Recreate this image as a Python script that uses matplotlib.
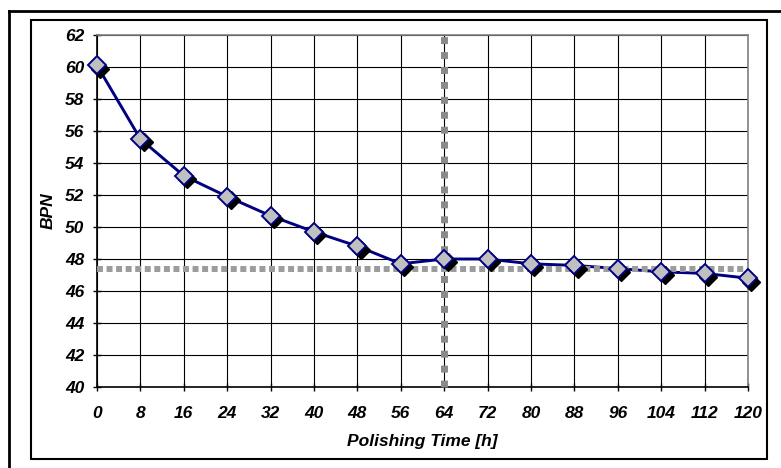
import matplotlib
matplotlib.use("Agg")
import matplotlib.pyplot as plt
import matplotlib.transforms as mtransforms
from matplotlib.lines import Line2D

# ---- data ----
polishing_time = [0, 8, 16, 24, 32, 40, 48, 56, 64, 72, 80, 88, 96, 104, 112, 120]
bpn = [60.1, 55.5, 53.2, 51.9, 50.7, 49.7, 48.8, 47.7, 48.0, 48.0, 47.7, 47.6, 47.4, 47.2, 47.1, 46.8]
x_ticks = list(range(0, 121, 8))
y_ticks = list(range(40, 63, 2))
h_ref = 47.4
v_ref = 64

plt.rcParams['font.family'] = ['Liberation Sans', 'DejaVu Sans']

fig = plt.figure(figsize=(7.81, 4.68), dpi=100)
W, H = 781, 468

def fx(px):
    return px / W

def fy(py):
    return 1 - py / H

ax = fig.add_axes([fx(97), fy(387), fx(748) - fx(97), fy(35) - fy(387)])

# frames
fig.add_artist(Line2D([fx(9), 1.0], [fy(11), fy(11)], color='black', lw=2.0, transform=fig.transFigure))
fig.add_artist(Line2D([fx(9), fx(9)], [fy(11), 0.0], color='black', lw=2.0, transform=fig.transFigure))
fig.add_artist(plt.Rectangle((fx(31), fy(459)), fx(767) - fx(31), fy(20) - fy(459),
                             fill=False, ec='black', lw=1.5, transform=fig.transFigure))

ax.set_xlim(0, 120)
ax.set_ylim(40, 62)
ax.set_xticks(x_ticks)
ax.set_yticks(y_ticks)
ax.grid(True, color='black', lw=0.8)
ax.set_axisbelow(True)

for s in ['top', 'right']:
    ax.spines[s].set_color('#808080')
    ax.spines[s].set_linewidth(1.2)
for s in ['left', 'bottom']:
    ax.spines[s].set_color('black')
    ax.spines[s].set_linewidth(1.2)

ax.tick_params(direction='inout', length=6, width=1.0, color='black')
ax.tick_params(axis='y', pad=6)
ax.tick_params(axis='x', pad=11)
for lab in ax.get_xticklabels() + ax.get_yticklabels():
    lab.set_fontsize(12.5)
    lab.set_fontweight('bold')
    lab.set_fontstyle('italic')

ax.set_xlabel('Polishing Time [h]', fontsize=12.5, fontweight='bold', fontstyle='italic', labelpad=9)
ax.set_ylabel('BPN', fontsize=12.5, fontweight='bold', fontstyle='italic', labelpad=7)

# data line
ax.plot(polishing_time, bpn, color='#000080', lw=2.1, zorder=3, clip_on=False)

# reference dotted lines
ax.plot([0, 120], [h_ref, h_ref], color='#9c9c9c', lw=4.3, dashes=(1.0, 0.6), zorder=4, clip_on=False)
ax.plot([v_ref, v_ref], [40, 62.1], color='#8a8a8a', lw=5.0, dashes=(1.0, 1.15), zorder=4, clip_on=False)

# marker shadow
shadow_tr = ax.transData + mtransforms.ScaledTranslation(2.4 / 72, -2.4 / 72, fig.dpi_scale_trans)
ax.plot(polishing_time, bpn, ls='none', marker='D', ms=9.6, mfc='black', mec='black',
        transform=shadow_tr, zorder=5, clip_on=False)
ax.plot(polishing_time, bpn, ls='none', marker='D', ms=9.6, mfc='#c0c0c0', mec='#000080',
        mew=1.4, zorder=6, clip_on=False)

fig.savefig('out.png', dpi=100)
